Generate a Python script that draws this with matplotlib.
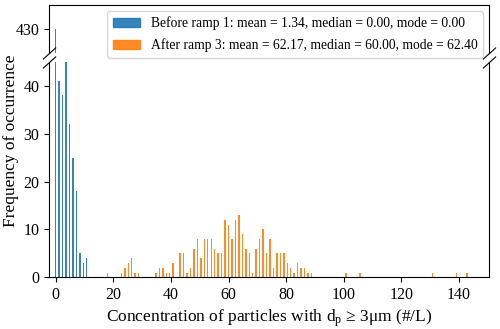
import matplotlib

matplotlib.use("Agg")
import matplotlib.pyplot as plt
from matplotlib.patches import Patch

plt.rcParams["font.family"] = ["Liberation Serif", "DejaVu Serif"]
plt.rcParams["mathtext.fontset"] = "custom"
plt.rcParams["mathtext.rm"] = "Liberation Serif"
plt.rcParams["mathtext.it"] = "Liberation Serif:italic"

# before ramp 1
before_conc = [0.0, 1.2, 2.4, 3.6, 4.8, 6.0, 7.2, 8.4, 9.6, 10.8]
before_freq = [430, 41, 38, 49, 32, 25, 18, 5, 3, 4]

# after ramp 3
after_conc = [18.0, 22.8, 24.0, 25.2, 26.4, 27.6, 28.8, 34.8, 36.0, 37.2,
              38.4, 39.6, 40.8, 43.2, 44.4, 45.6, 46.8, 48.0, 49.2, 50.4,
              51.6, 52.8, 54.0, 55.2, 56.4, 57.6, 58.8, 60.0, 61.2, 62.4,
              63.6, 64.8, 66.0, 67.2, 68.4, 69.6, 70.8, 72.0, 73.2, 74.4,
              75.6, 76.8, 78.0, 79.2, 80.4, 81.6, 82.8, 84.0, 85.2, 86.4,
              87.6, 88.8, 100.8, 105.6, 130.8, 139.2, 142.8]
after_freq = [1, 1, 2, 3, 4, 1, 1, 1, 2, 2,
              1, 1, 3, 5, 5, 1, 2, 6, 8, 4,
              8, 8, 8, 6, 5, 5, 12, 11, 8, 12,
              13, 9, 6, 5, 1, 6, 8, 10, 5, 8,
              2, 5, 5, 5, 3, 2, 1, 3, 2, 2,
              1, 1, 1, 1, 1, 1, 1]

labels = ["Before ramp 1: mean = 1.34, median = 0.00, mode = 0.00",
          "After ramp 3: mean = 62.17, median = 60.00, mode = 62.40"]
colors = ["#1f77b4", "#ff7f0e"]

fig = plt.figure(figsize=(5, 3.29), dpi=100)
left, width = 49.3 / 500, 439.7 / 500
ax_top = fig.add_axes([left, 1 - 53 / 329, width, 48 / 329])
ax_bot = fig.add_axes([left, 1 - 277.3 / 329, width, 215.3 / 329])

for ax in (ax_top, ax_bot):
    ax.bar(before_conc, before_freq, 0.5, color=colors[0], alpha=0.9)
    ax.bar(after_conc, after_freq, 0.5, color=colors[1], alpha=0.9)
    ax.set_xlim(-2.2, 150.4)
    ax.tick_params(labelsize=11.5)

ax_top.set_ylim(425, 435)
ax_top.set_yticks([430])
ax_top.spines["bottom"].set_visible(False)
ax_top.tick_params(bottom=False, labelbottom=False)

ax_bot.set_ylim(0, 45)
ax_bot.set_yticks([0, 10, 20, 30, 40])
ax_bot.set_xticks(range(0, 141, 20))
ax_bot.spines["top"].set_visible(False)

# break marks
kw = dict(marker=[(-1, -0.9), (1, 0.9)], markersize=9.5, linestyle="none",
          color="k", mec="k", mew=0.8, clip_on=False)
ax_top.plot([0, 1], [0, 0], transform=ax_top.transAxes, **kw)
ax_bot.plot([0, 1], [1, 1], transform=ax_bot.transAxes, **kw)

ax_bot.set_xlabel(r"Concentration of particles with d$_\mathrm{p}$ ≥ 3μm (#/L)",
                  fontsize=12.5, labelpad=3)
fig.text(0.022, 1 - 141 / 329, "Frequency of occurrence", rotation=90,
         ha="center", va="center", fontsize=12.5)

handles = [Patch(color=c, alpha=0.9) for c in colors]
fig.legend(handles, labels, loc="upper right", fontsize=9.8,
           bbox_to_anchor=(483 / 500, 1 - 11 / 329), borderaxespad=0,
           labelspacing=0.6)

fig.savefig("out.png")
